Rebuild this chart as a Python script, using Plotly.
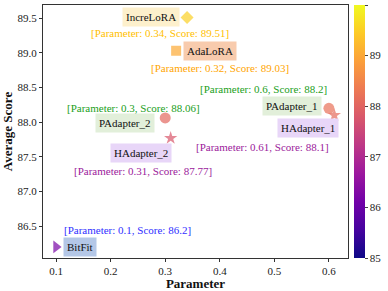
import plotly.graph_objects as go

methods = ["IncreLoRA", "AdaLoRA", "PAdapter_2", "HAdapter_2", "PAdapter_1", "HAdapter_1", "BitFit"]
params = [0.34, 0.32, 0.30, 0.31, 0.60, 0.61, 0.10]
scores = [89.51, 89.03, 88.06, 87.77, 88.20, 88.10, 86.20]
symbols = ["diamond", "square", "circle", "star", "circle", "star", "triangle-right"]
box_colors = ["#fdf0cc", "#f8cbad", "#e2efda", "#e8d6f8", "#e2efda", "#e8d6f8", "#b4c7e7"]
note_colors = ["#ffc000", "#ffa500", "#22a022", "#9b1a9b", "#22a022", "#9b1a9b", "#2f2fff"]
sizes = [10, 10, 11, 10, 11, 10, 11]

# label placement (anchor, xshift, yshift) and note placement (xshift, yshift)
label_pos = [("right", -7, 0), ("left", 7, 0), ("right", -10, -5), ("center", -30, -15),
             ("right", -7, 2), ("center", -26, -13), ("left", 7, 0)]
note_pos = [(-27, -16), (44, -17), (-32, 10), (-28, -33), (-65, 19), (-72, -32), (71, 17)]

FONT = "'Liberation Serif', 'Times New Roman', Times, serif"

fig = go.Figure()
fig.add_trace(go.Scatter(
    x=params, y=scores, mode="markers",
    marker=dict(symbol=symbols, size=sizes, color=scores, colorscale="Plasma",
                cmin=85, cmax=90, line=dict(width=0),
                colorbar=dict(x=1.02, xanchor="left", y=0.5, yanchor="middle", len=1.0,
                              lenmode="fraction", thickness=11, ypad=0, xpad=0,
                              outlinewidth=0, tickvals=[85, 86, 87, 88, 89, 90],
                              ticks="outside", ticklen=3,
                              tickfont=dict(family=FONT, size=11, color="#222"))),
    showlegend=False, hoverinfo="skip"))

for i, m in enumerate(methods):
    anc, xs, ys = label_pos[i]
    fig.add_annotation(x=params[i], y=scores[i], text=m, showarrow=False,
                       xanchor=anc, yanchor="middle", xshift=xs, yshift=ys,
                       bgcolor=box_colors[i], borderpad=3,
                       font=dict(family=FONT, size=11, color="#111"))
    nxs, nys = note_pos[i]
    fig.add_annotation(x=params[i], y=scores[i],
                       text=f"[Parameter: {params[i]:g}, Score: {scores[i]:g}]",
                       showarrow=False, xanchor="center", yanchor="middle",
                       xshift=nxs, yshift=nys,
                       font=dict(family=FONT, size=11, color=note_colors[i]))

axis_common = dict(showline=True, linecolor="#333", linewidth=1, mirror=True, automargin=False,
                   ticks="outside", ticklen=3, tickcolor="#333", showgrid=False, zeroline=False,
                   tickfont=dict(family=FONT, size=11, color="#222"))

fig.update_xaxes(range=[0.076, 0.635], tickvals=[0.1, 0.2, 0.3, 0.4, 0.5, 0.6],
                 ticktext=["0.1", "0.2", "0.3", "0.4", "0.5", "0.6"],
                 title=dict(text="<b>Parameter</b>", font=dict(family=FONT, size=13, color="#111"), standoff=2),
                 **axis_common)
fig.update_yaxes(range=[86.04, 89.69], tickvals=[86.5, 87.0, 87.5, 88.0, 88.5, 89.0, 89.5],
                 ticktext=["86.5", "87.0", "87.5", "88.0", "88.5", "89.0", "89.5"],
                 title=dict(text="<b>Average Score</b>", font=dict(family=FONT, size=13, color="#111"), standoff=4),
                 **axis_common)

fig.update_layout(width=388, height=291, margin=dict(l=43, r=40, t=5, b=33, autoexpand=False),
                  plot_bgcolor="white", paper_bgcolor="white",
                  font=dict(family=FONT))

fig.write_html("out.html", config={"displayModeBar": False},
               post_script="document.body.style.margin='0';document.body.style.overflow='hidden';")
